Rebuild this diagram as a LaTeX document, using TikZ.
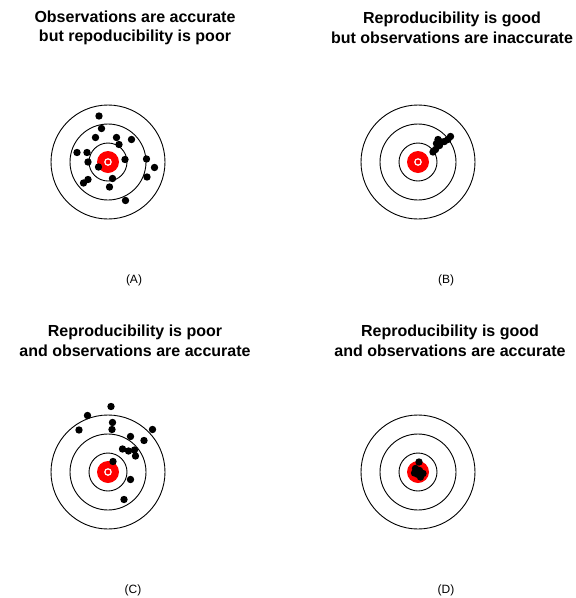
\documentclass[tikz,border=0pt]{standalone}
\usepackage{fontspec}
\setmainfont{Liberation Sans}
\begin{document}
\begin{tikzpicture}[x=1pt,y=-1pt,inner sep=0pt,outer sep=0pt,
ring/.style={draw,line width=0.9pt},
bull/.style={fill=red},
shot/.style={fill=black},
heading/.style={font=\fontsize{16}{19.5}\selectfont\bfseries,align=center},
tag/.style={font=\fontsize{12}{14}\selectfont}]
\useasboundingbox (0,0) rectangle (576,598);

% centres of the four targets
\coordinate (tA) at (108,162);
\coordinate (tB) at (418,162);
\coordinate (tC) at (108,472);
\coordinate (tD) at (418,472);

% rings and bull's eyes
\foreach \t in {tA,tB,tC,tD} {
  \draw[ring] (\t) circle[radius=19pt] circle[radius=38pt] circle[radius=57pt];
  \fill[bull] (\t) circle[radius=11pt];
  \draw[white,line width=1.2pt] (\t) circle[radius=3.2pt];
}

% shots
\foreach \dx/\dy in {-9/-46,-6.5/-33.5,-12.5/-24.5,8.5/-24.5,11/-17.5,23.5/-22.5,
  -31/-9.5,-21/-9.5,-20/0,17/-2.5,38.5/-3,46.5/5.5,-9.5/5,39/15,4.5/16.5,
  -20/17.5,-24.5/21,1.5/25,17.5/38.5}
  \fill[shot] (tA) ++(\dx,\dy) circle[radius=3.7pt];
\foreach \dx/\dy in {32.5/-25.5,30/-22.5,20/-22.5,23.5/-20,26.5/-20.5,
  18.5/-18.5,21.5/-16.5,17.5/-12.5,15/-10}
  \fill[shot] (tB) ++(\dx,\dy) circle[radius=3.7pt];
\foreach \dx/\dy in {3/-65.5,-20.5/-56.5,4.5/-49.5,4/-42.5,-29/-42,44.5/-42.5,
  22.5/-35.5,36/-31.5,14.5/-23,20.5/-21,26.5/-22,27.5/-16,5/-10.5,22.5/7.5,16/27.5}
  \fill[shot] (tC) ++(\dx,\dy) circle[radius=3.7pt];
\foreach \dx/\dy in {1/-10,-2.5/-3.5,1.5/-1.5,5/1.5,0/2.5,2.5/5,-3.5/1}
  \fill[shot] (tD) ++(\dx,\dy) circle[radius=3.7pt];

% headings
\node[heading] (headA) at (135,28) {Observations are accurate\\but repoducibility is poor};
\node[heading] (headB) at (452,28) {Reproducibility is good\\but observations are inaccurate};
\node[heading] (headC) at (135,341) {Reproducibility is poor\\and observations are accurate};
\node[heading] (headD) at (450,341) {Reproducibility is good\\and observations are accurate};

% panel tags
\node[tag] (tagA) at (134,280) {(A)};
\node[tag] (tagB) at (446,280) {(B)};
\node[tag] (tagC) at (133,590) {(C)};
\node[tag] (tagD) at (446,590) {(D)};
\end{tikzpicture}
\end{document}
